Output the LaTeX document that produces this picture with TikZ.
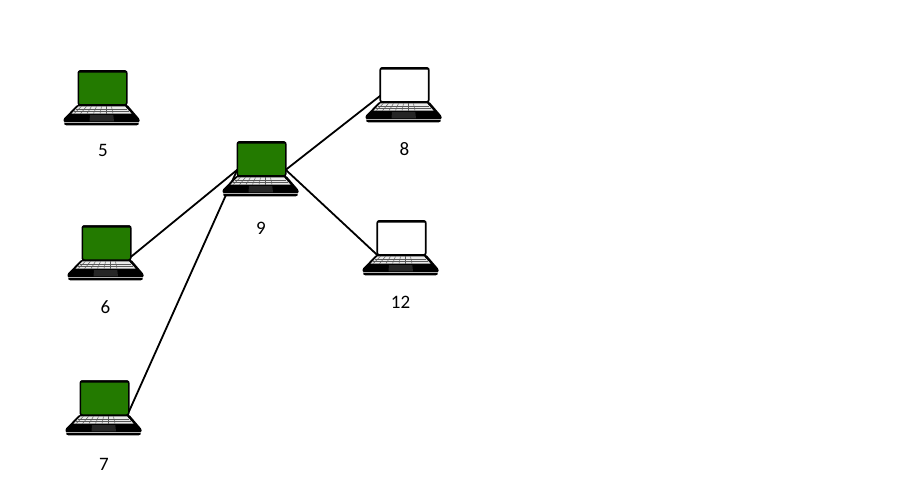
\documentclass[tikz,border=0pt]{standalone}
\usepackage{fontspec}
\setmainfont{Carlito}
\usetikzlibrary{backgrounds}
\definecolor{scrgreen}{HTML}{237A00}
\tikzset{
  x=1pt,y=-1pt,
  screen/.style={draw=black,line width=1.5pt,rounded corners=2pt,minimum width=48.5pt,minimum height=34pt,inner sep=0pt,outer sep=0pt},
  onscreen/.style={screen,fill=scrgreen},
  offscreen/.style={screen,fill=white,line width=1.7pt},
  link/.style={draw=black,line width=1.8pt},
  caption/.style={font=\fontsize{19}{19}\selectfont,text=black,inner sep=0pt},
  laptopbase/.pic={
    % top bezel of the lid
    \fill[black,rounded corners=1.5pt] (-24.5,-17.6) rectangle (24.5,-15.4);
    % body
    \fill[black,rounded corners=1pt] (-25.5,17) -- (25,17) -- (37,31) -- (37,34) -- (-39,34) -- (-39,31) -- cycle;
    \fill[black,rounded corners=1.2pt] (-39,35) -- (37,35) -- (35.5,37.3) -- (-37.5,37.3) -- cycle;
    \fill[gray!60] (-38.5,34) rectangle (36.5,35);
    % keyboard
    \fill[white!92!black] (-24,18.4) -- (22.5,18.4) -- (29,25.6) -- (-31,25.6) -- cycle;
    \draw[black!65,line width=.5pt] (-26.2,20.8) -- (24.7,20.8) (-28.6,23.2) -- (26.8,23.2);
    \foreach \t in {-20,-15,-10,-5,0,5,10}{
      \draw[black!65,line width=.5pt] (\t-1,18.4) -- (\t*1.3-2.5,25.6);
    }
    % touchpad
    \fill[black!85] (-12.5,27) -- (10.8,27) -- (11.5,33.3) -- (-13,33.3) -- cycle;
  }
}
\begin{document}
\begin{tikzpicture}
\useasboundingbox (0,0) rectangle (900,500);
\node[onscreen] (n5) at (102.5,88) {};
\node[onscreen] (n6) at (106.5,243) {};
\node[onscreen] (n7) at (104.5,398) {};
\node[onscreen] (n9) at (261.5,159) {};
\node[offscreen] (n8) at (404.5,85) {};
\node[offscreen] (n12) at (401.5,238) {};
\foreach \n in {n5,n6,n7,n9,n8,n12}{ \pic at (\n) {laptopbase}; }
\node[caption] (l5) at (103,150.5) {5};
\node[caption] (l6) at (105.5,307.5) {6};
\node[caption] (l7) at (104,464.5) {7};
\node[caption] (l9) at (261,228.5) {9};
\node[caption] (l8) at (404.5,149.5) {8};
\node[caption] (l12) at (400.5,302.5) {12};
\begin{scope}[on background layer]
\draw[link] (n6.-30) -- (n9.204);
\draw[link] (n7.-30) -- (n9.204);
\draw[link] (n9.-24) -- (n8.204);
\draw[link] (n9.-24) -- (n12.215);
\end{scope}
\end{tikzpicture}
\end{document}
